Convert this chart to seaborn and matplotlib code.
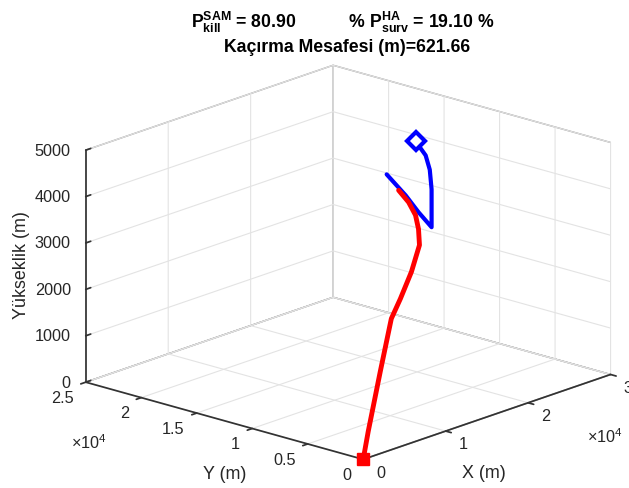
import matplotlib
matplotlib.use('Agg')
import matplotlib.pyplot as plt
import seaborn as sns
from mpl_toolkits.mplot3d import Axes3D  # noqa: F401

sns.set_theme(style='white')
plt.rcParams['font.family'] = ['Liberation Sans', 'DejaVu Sans']
plt.rcParams['mathtext.fontset'] = 'custom'
plt.rcParams['mathtext.rm'] = 'Liberation Sans'
plt.rcParams['mathtext.bf'] = 'Liberation Sans:bold'
plt.rcParams['mathtext.it'] = 'Liberation Sans:italic'
plt.rcParams['grid.color'] = '#e3e3e3'
plt.rcParams['grid.linewidth'] = 0.8
plt.rcParams['grid.linestyle'] = '-'

# --- data (metres) ---
missile_x = [0, 945, 2181, 3585, 6102, 8211, 10896, 13554, 15120, 16440, 16950, 17355]
missile_y = [0, 250, 625, 1125, 2000, 2750, 3750, 5000, 6250, 7500, 8500, 9700]
missile_z = [0, 528, 1073, 1600, 2527, 2778, 3127, 3459, 3625, 3761, 3942, 4095]

target_x = [19620, 19704, 19850, 19290, 18120, 17325, 17721, 18060, 17955]
target_y = [9850, 9012, 8750, 8170, 7300, 6710, 8175, 9592, 11225]
target_z = [5000, 4750, 4450, 4100, 3800, 3500, 3700, 3950, 4300]

x_ticks = [0, 10000, 20000, 30000]
x_tick_labels = ['0', '1', '2', '3']
y_ticks = [0, 5000, 10000, 15000, 20000, 25000]
y_tick_labels = ['0', '0.5', '1', '1.5', '2', '2.5']
z_ticks = [0, 1000, 2000, 3000, 4000, 5000]
z_tick_labels = ['0', '1000', '2000', '3000', '4000', '5000']

title_line1 = (r'$\mathbf{P}^{\mathbf{SAM}}_{\mathbf{kill}}$ = 80.90           '
               r'% $\mathbf{P}^{\mathbf{HA}}_{\mathbf{surv}}$ = 19.10 %')
title_line2 = 'Kaçırma Mesafesi (m)=621.66'
offset_text = r'$\times10^{4}$'

XMAX, YMAX, ZMAX = 30000, 25000, 5000

W, H = 629, 489
fig = plt.figure(figsize=(W / 100, H / 100), dpi=100)
ax = fig.add_axes([0.043, -0.052, 1.0, 1.0], projection='3d', proj_type='ortho',
                  computed_zorder=False)
ax.view_init(elev=18, azim=-138)
ax.set_box_aspect((1, 1.01, 0.66), zoom=1.15)

ax.set_xlim(0, XMAX)
ax.set_ylim(0, YMAX)
ax.set_zlim(0, ZMAX)

edge = '#333333'
for axis in (ax.xaxis, ax.yaxis, ax.zaxis):
    axis.pane.set_facecolor('white')
    axis.pane.set_edgecolor(edge)
    axis.pane.set_linewidth(1.0)
    axis.line.set_color(edge)
for axis in (ax.xaxis, ax.yaxis):
    axis._axinfo['tick']['inward_factor'] = 0.25
    axis._axinfo['tick']['outward_factor'] = 0.0
ax.zaxis._axinfo['tick']['inward_factor'] = 0.0
ax.zaxis._axinfo['tick']['outward_factor'] = 0.25

ax.set_xticks(x_ticks, labels=[''] * len(x_ticks))
ax.set_yticks(y_ticks, labels=[''] * len(y_ticks))
ax.set_zticks(z_ticks, labels=[''] * len(z_ticks))
ax.tick_params(colors=edge)

# tick labels placed next to the box edges (offsets in data units)
txt = '#262626'
tfs = 11.7
for t, lab in zip(x_ticks, x_tick_labels):
    ax.text(t, -0.047 * YMAX, -0.040 * ZMAX, lab, ha='left', va='center',
            fontsize=tfs, color=txt)
for t, lab in zip(y_ticks, y_tick_labels):
    ax.text(-0.049 * XMAX, t, -0.047 * ZMAX, lab, ha='right', va='center',
            fontsize=tfs, color=txt)
for t, lab in zip(z_ticks, z_tick_labels):
    ax.text(-0.027 * XMAX, YMAX * 1.03, t, lab, ha='right', va='center',
            fontsize=tfs, color=txt)

ax.plot(target_x, target_y, target_z, color='blue', lw=3.0)
ax.plot(missile_x, missile_y, missile_z, color='red', lw=3.5)
ax.plot([target_x[0]], [target_y[0]], [target_z[0]], marker='D', ms=9.5,
        mfc='white', mec='blue', mew=3, linestyle='none')
ax.plot([missile_x[0]], [missile_y[0]], [missile_z[0]], marker='s', ms=9,
        color='red', linestyle='none')

fig.text(484 / W, 1 - 474 / H, 'X (m)', ha='center', va='center', fontsize=12.9, color=txt)
fig.text(225 / W, 1 - 475 / H, 'Y (m)', ha='center', va='center', fontsize=12.9, color=txt)
fig.text(22 / W, 1 - 265 / H, 'Yükseklik (m)', ha='center', va='center', fontsize=12.9,
         rotation=90, color=txt)
fig.text(89 / W, 1 - 443 / H, offset_text, ha='center', va='center', fontsize=11.7, color=txt)
fig.text(605 / W, 1 - 437 / H, offset_text, ha='center', va='center', fontsize=11.7, color=txt)

fig.text(343 / W, 1 - 22 / H, title_line1, ha='center', va='center', fontsize=12.7,
         fontweight='bold', color='black')
fig.text(347 / W, 1 - 48 / H, title_line2, ha='center', va='center', fontsize=12.7,
         fontweight='bold', color='black')

fig.savefig('out.png', dpi=100)
